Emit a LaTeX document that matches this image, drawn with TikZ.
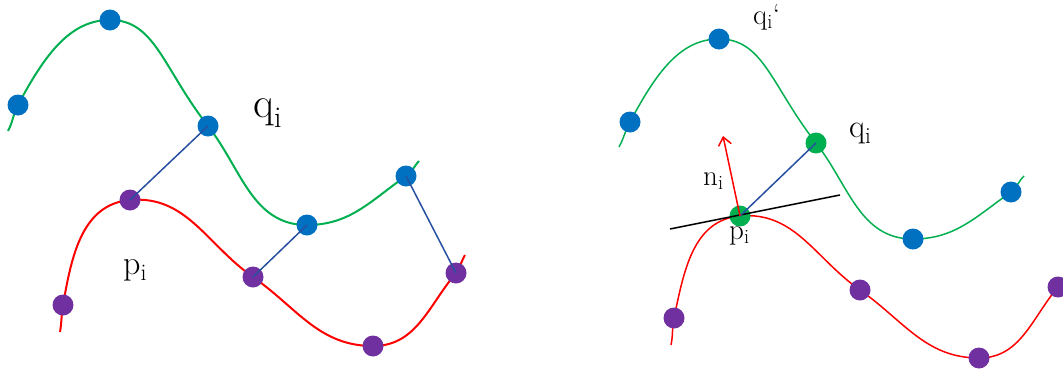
\documentclass[tikz,border=0pt]{standalone}
\usetikzlibrary{arrows.meta}
\definecolor{cgreen}{RGB}{0,176,80}
\definecolor{cblue}{RGB}{0,112,192}
\definecolor{cpurple}{RGB}{112,48,160}
\definecolor{cred}{RGB}{255,0,0}
\definecolor{clink}{RGB}{40,80,160}
\tikzset{
  bdot/.style={circle,fill=cblue,inner sep=0pt,minimum size=21pt},
  pdot/.style={circle,fill=cpurple,inner sep=0pt,minimum size=21pt},
  gdot/.style={circle,fill=cgreen,inner sep=0pt,minimum size=21pt},
  gcurve/.style={draw=cgreen},
  rcurve/.style={draw=cred},
  link/.style={draw=clink,line width=1.5pt},
  lbl/.style={anchor=base west,inner sep=0pt,text=black},
}
\begin{document}
\begin{tikzpicture}[x=1pt,y=-1pt]
\useasboundingbox (0,0) rectangle (1063,370);
% ---------- left panel ----------
\coordinate (lg0) at (8,131);
\coordinate (lg1) at (18,105);
\coordinate (lg2) at (110,20);
\coordinate (lg3) at (208,126);
\coordinate (lg4) at (307,225);
\coordinate (lg5) at (406,176);
\coordinate (lg6) at (419,161);
\coordinate (lr0) at (60,332);
\coordinate (lr1) at (63,305);
\coordinate (lr2) at (130,200);
\coordinate (lr3) at (253,277);
\coordinate (lr4) at (373,346);
\coordinate (lr5) at (456,273);
\coordinate (lr6) at (465,255);
\draw[gcurve,line width=2pt] (lg0) to[out=62,in=242] (lg1) to[out=62,in=180,out looseness=1.2,in looseness=0.8] (lg2)
  to[out=0,in=128,out looseness=0.8,in looseness=1.3] (lg3) to[out=-52,in=180] (lg4) to[out=0,in=215] (lg5) to[out=35,in=228] (lg6);
\draw[rcurve,line width=2pt] (lr0) to[out=80,in=260] (lr1) to[out=80,in=185] (lr2)
  to[out=5,in=145] (lr3) to[out=-35,in=180] (lr4) to[out=0,in=230] (lr5) to[out=55,in=240] (lr6);
\foreach \i in {1,...,5} {\node[bdot] (LQ\i) at (lg\i) {};}
\foreach \i in {1,...,5} {\node[pdot] (LP\i) at (lr\i) {};}
\draw[link] (LP2.center) -- (LQ3.center);
\draw[link] (LP3.center) -- (LQ4.center);
\draw[link] (LQ5.center) -- (LP5.center);
\node[lbl,font=\fontsize{43}{43}\selectfont] (lq) at (253,117) {q\textsubscript{i}};
\node[lbl,font=\fontsize{34}{34}\selectfont] (lp) at (123,274) {p\textsubscript{i}};
% ---------- right panel ----------
\coordinate (rg0) at (619,147);
\coordinate (rg1) at (630,122);
\coordinate (rg2) at (719,39);
\coordinate (rg3) at (816,143);
\coordinate (rg4) at (913,239);
\coordinate (rg5) at (1011,192);
\coordinate (rg6) at (1024,176);
\coordinate (rr0) at (671,345);
\coordinate (rr1) at (674,318);
\coordinate (rr2) at (740,216);
\coordinate (rr3) at (860,290);
\coordinate (rr4) at (979,358);
\coordinate (rr5) at (1058,287);
\coordinate (rr6) at (1068,275);
\draw[gcurve,line width=1.5pt] (rg0) to[out=62,in=242] (rg1) to[out=62,in=180,out looseness=1.2,in looseness=0.8] (rg2)
  to[out=0,in=128,out looseness=0.8,in looseness=1.3] (rg3) to[out=-52,in=180] (rg4) to[out=0,in=215] (rg5) to[out=40,in=225] (rg6);
\draw[rcurve,line width=1.5pt] (rr0) to[out=78,in=258] (rr1) to[out=78,in=185] (rr2)
  to[out=5,in=145] (rr3) to[out=-35,in=180] (rr4) to[out=0,in=230] (rr5) to[out=50,in=230] (rr6);
\node[bdot] (RQ1) at (rg1) {};
\node[bdot] (RQ2) at (rg2) {};
\node[gdot] (RQ3) at (rg3) {};
\node[bdot] (RQ4) at (rg4) {};
\node[bdot] (RQ5) at (rg5) {};
\node[pdot] (RP1) at (rr1) {};
\node[gdot] (RP2) at (rr2) {};
\node[pdot] (RP3) at (rr3) {};
\node[pdot] (RP4) at (rr4) {};
\node[pdot] (RP5) at (rr5) {};
\coordinate (t0) at (670,229);
\coordinate (t1) at (840,195);
\coordinate (ntip) at (723,136);
\draw[black,line width=1.5pt] (t0) -- (t1);
\draw[link] (RP2.center) -- (RQ3.center);
\draw[cred,line width=1.5pt,-{Straight Barb[length=8pt,width=13pt]}] (RP2.center) -- (ntip);
\node[lbl,font=\fontsize{33}{33}\selectfont] (rq) at (849,137) {q\textsubscript{i}};
\node[lbl,font=\fontsize{29}{29}\selectfont] (rqp) at (753,24) {q\textsubscript{i}`};
\node[lbl,font=\fontsize{29}{29}\selectfont] (rn) at (703,185) {n\textsubscript{i}};
\node[lbl,font=\fontsize{29}{29}\selectfont] (rp) at (729,239) {p\textsubscript{i}};
\end{tikzpicture}
\end{document}
